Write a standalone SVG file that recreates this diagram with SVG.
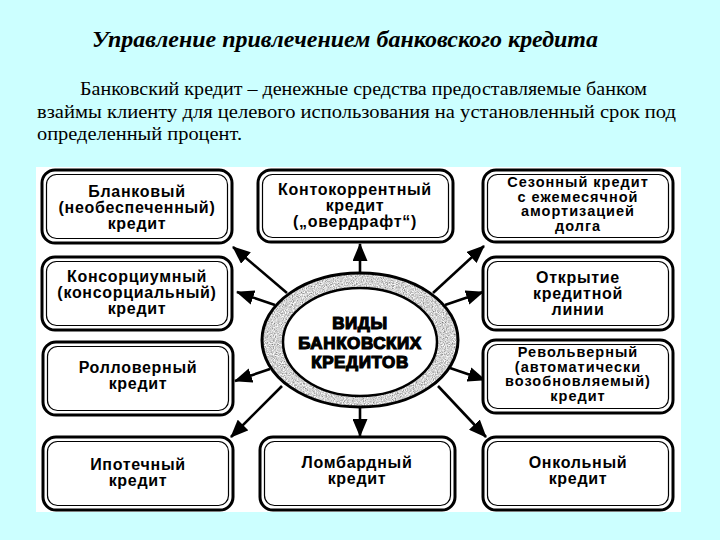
<svg xmlns="http://www.w3.org/2000/svg" width="720" height="540" viewBox="0 0 720 540">
<style>
.title{font-family:"Liberation Serif","Times New Roman",serif;font-weight:bold;font-style:italic;font-size:23px;fill:#000}
.para{font-family:"Liberation Serif","Times New Roman",serif;font-size:19.5px;fill:#000}
.bo{fill:#fff;stroke:#000;stroke-width:3}
.bi{fill:none;stroke:#000;stroke-width:1.2}
.bt{font-family:"Liberation Sans",Arial,sans-serif;font-weight:bold;font-size:16px;letter-spacing:0.7px;fill:#000;text-anchor:middle}
.bs{font-size:14.5px;letter-spacing:1px}
.ct{font-family:"Liberation Sans",Arial,sans-serif;font-weight:bold;font-size:17px;letter-spacing:0.6px;fill:#000;stroke:#000;stroke-width:1.2;text-anchor:middle}
.arr{stroke:#000;stroke-width:2.6;fill:none;marker-end:url(#ah)}
</style>
<defs>
<marker id="ah" markerUnits="userSpaceOnUse" markerWidth="19" markerHeight="15" refX="17" refY="7.5" orient="auto">
<path d="M0,0 L18,7.5 L0,15 Z" fill="#000"/>
</marker>
<filter id="grain" x="0" y="0" width="100%" height="100%">
<feTurbulence type="fractalNoise" baseFrequency="0.9" numOctaves="2" seed="3" result="n"/>
<feColorMatrix in="n" type="matrix" values="1.3 0 0 0 0  1.3 0 0 0 0  1.3 0 0 0 0  0 0 0 0 1" result="g"/>
<feComposite in="g" in2="SourceGraphic" operator="in"/>
</filter>
</defs>
<rect x="0" y="0" width="720" height="540" fill="#CCFFFF"/>
<text class="title" x="92" y="47" textLength="506" lengthAdjust="spacingAndGlyphs">Управление привлечением банковского кредита</text>
<text class="para" x="80" y="95" textLength="567" lengthAdjust="spacingAndGlyphs">Банковский кредит – денежные средства предоставляемые банком</text>
<text class="para" x="37" y="118" textLength="639" lengthAdjust="spacingAndGlyphs">взаймы клиенту для целевого использования на установленный срок под</text>
<text class="para" x="37" y="140" textLength="205" lengthAdjust="spacingAndGlyphs">определенный процент.</text>
<rect x="36" y="167" width="645" height="345" fill="#fff"/>
<g id="connectors">
<line class="arr" x1="360" y1="274" x2="360" y2="244"/>
<line class="arr" x1="360" y1="407" x2="360" y2="436"/>
<line class="arr" x1="287" y1="293" x2="233" y2="247"/>
<line class="arr" x1="275" y1="305" x2="237" y2="292"/>
<line class="arr" x1="270" y1="369" x2="235" y2="381"/>
<line class="arr" x1="282" y1="386" x2="231" y2="437"/>
<line class="arr" x1="433" y1="293" x2="484" y2="246"/>
<line class="arr" x1="445" y1="305" x2="483" y2="292"/>
<line class="arr" x1="450" y1="368" x2="485" y2="380"/>
<line class="arr" x1="438" y1="386" x2="486" y2="437"/>
</g>
<g id="center">
<ellipse cx="360" cy="340" rx="98" ry="67" fill="#999"/>
<ellipse cx="360" cy="340" rx="98" ry="67" fill="#999" filter="url(#grain)"/>
<ellipse cx="360" cy="340" rx="98" ry="67" fill="none" stroke="#000" stroke-width="3"/>
<ellipse cx="360" cy="342" rx="77" ry="54" fill="#fff" stroke="#000" stroke-width="2.5"/>
<text class="ct" x="360" y="329">ВИДЫ</text>
<text class="ct" x="360" y="349">БАНКОВСКИХ</text>
<text class="ct" x="360" y="368">КРЕДИТОВ</text>
</g>
<g id="blank">
<rect class="bo" x="42" y="170" width="190" height="73" rx="13"/>
<rect class="bi" x="46.5" y="174.5" width="181" height="64" rx="10"/>
<text class="bt" x="137" y="197">Бланковый</text>
<text class="bt" x="137" y="213">(необеспеченный)</text>
<text class="bt" x="137" y="229">кредит</text>
</g>
<g id="konsorc">
<rect class="bo" x="42" y="257" width="190" height="73" rx="13"/>
<rect class="bi" x="46.5" y="261.5" width="181" height="64" rx="10"/>
<text class="bt" x="137" y="282">Консорциумный</text>
<text class="bt" x="137" y="298">(консорциальный)</text>
<text class="bt" x="137" y="314">кредит</text>
</g>
<g id="rollover">
<rect class="bo" x="43" y="342" width="190" height="73" rx="13"/>
<rect class="bi" x="47.5" y="346.5" width="181" height="64" rx="10"/>
<text class="bt" x="138" y="373">Ролловерный</text>
<text class="bt" x="138" y="389">кредит</text>
</g>
<g id="ipoteka">
<rect class="bo" x="43" y="437" width="190" height="73" rx="13"/>
<rect class="bi" x="47.5" y="441.5" width="181" height="64" rx="10"/>
<text class="bt" x="138" y="470">Ипотечный</text>
<text class="bt" x="138" y="486">кредит</text>
</g>
<g id="kontokor">
<rect class="bo" x="258" y="170" width="195" height="72" rx="13"/>
<rect class="bi" x="262.5" y="174.5" width="186" height="63" rx="10"/>
<text class="bt" x="355" y="195">Контокоррентный</text>
<text class="bt" x="355" y="211">кредит</text>
<text class="bt" x="355" y="227">(„овердрафт“)</text>
</g>
<g id="lombard">
<rect class="bo" x="260" y="437" width="195" height="73" rx="13"/>
<rect class="bi" x="264.5" y="441.5" width="186" height="64" rx="10"/>
<text class="bt" x="357" y="468">Ломбардный</text>
<text class="bt" x="357" y="484">кредит</text>
</g>
<g id="sezon">
<rect class="bo" x="483" y="170" width="190" height="72" rx="13"/>
<rect class="bi" x="487.5" y="174.5" width="181" height="63" rx="10"/>
<text class="bt bs" x="578" y="187">Сезонный кредит</text>
<text class="bt bs" x="578" y="201.5">с ежемесячной</text>
<text class="bt bs" x="578" y="216">амортизацией</text>
<text class="bt bs" x="578" y="230.5">долга</text>
</g>
<g id="otkrytie">
<rect class="bo" x="483" y="257" width="190" height="73" rx="13"/>
<rect class="bi" x="487.5" y="261.5" width="181" height="64" rx="10"/>
<text class="bt" x="578" y="283">Открытие</text>
<text class="bt" x="578" y="299">кредитной</text>
<text class="bt" x="578" y="315">линии</text>
</g>
<g id="revolver">
<rect class="bo" x="483" y="340" width="190" height="73" rx="13"/>
<rect class="bi" x="487.5" y="344.5" width="181" height="64" rx="10"/>
<text class="bt bs" x="578" y="357">Револьверный</text>
<text class="bt bs" x="578" y="371.5">(автоматически</text>
<text class="bt bs" x="578" y="386">возобновляемый)</text>
<text class="bt bs" x="578" y="400.5">кредит</text>
</g>
<g id="onkol">
<rect class="bo" x="483" y="437" width="190" height="73" rx="13"/>
<rect class="bi" x="487.5" y="441.5" width="181" height="64" rx="10"/>
<text class="bt" x="578" y="468">Онкольный</text>
<text class="bt" x="578" y="484">кредит</text>
</g>
</svg>
